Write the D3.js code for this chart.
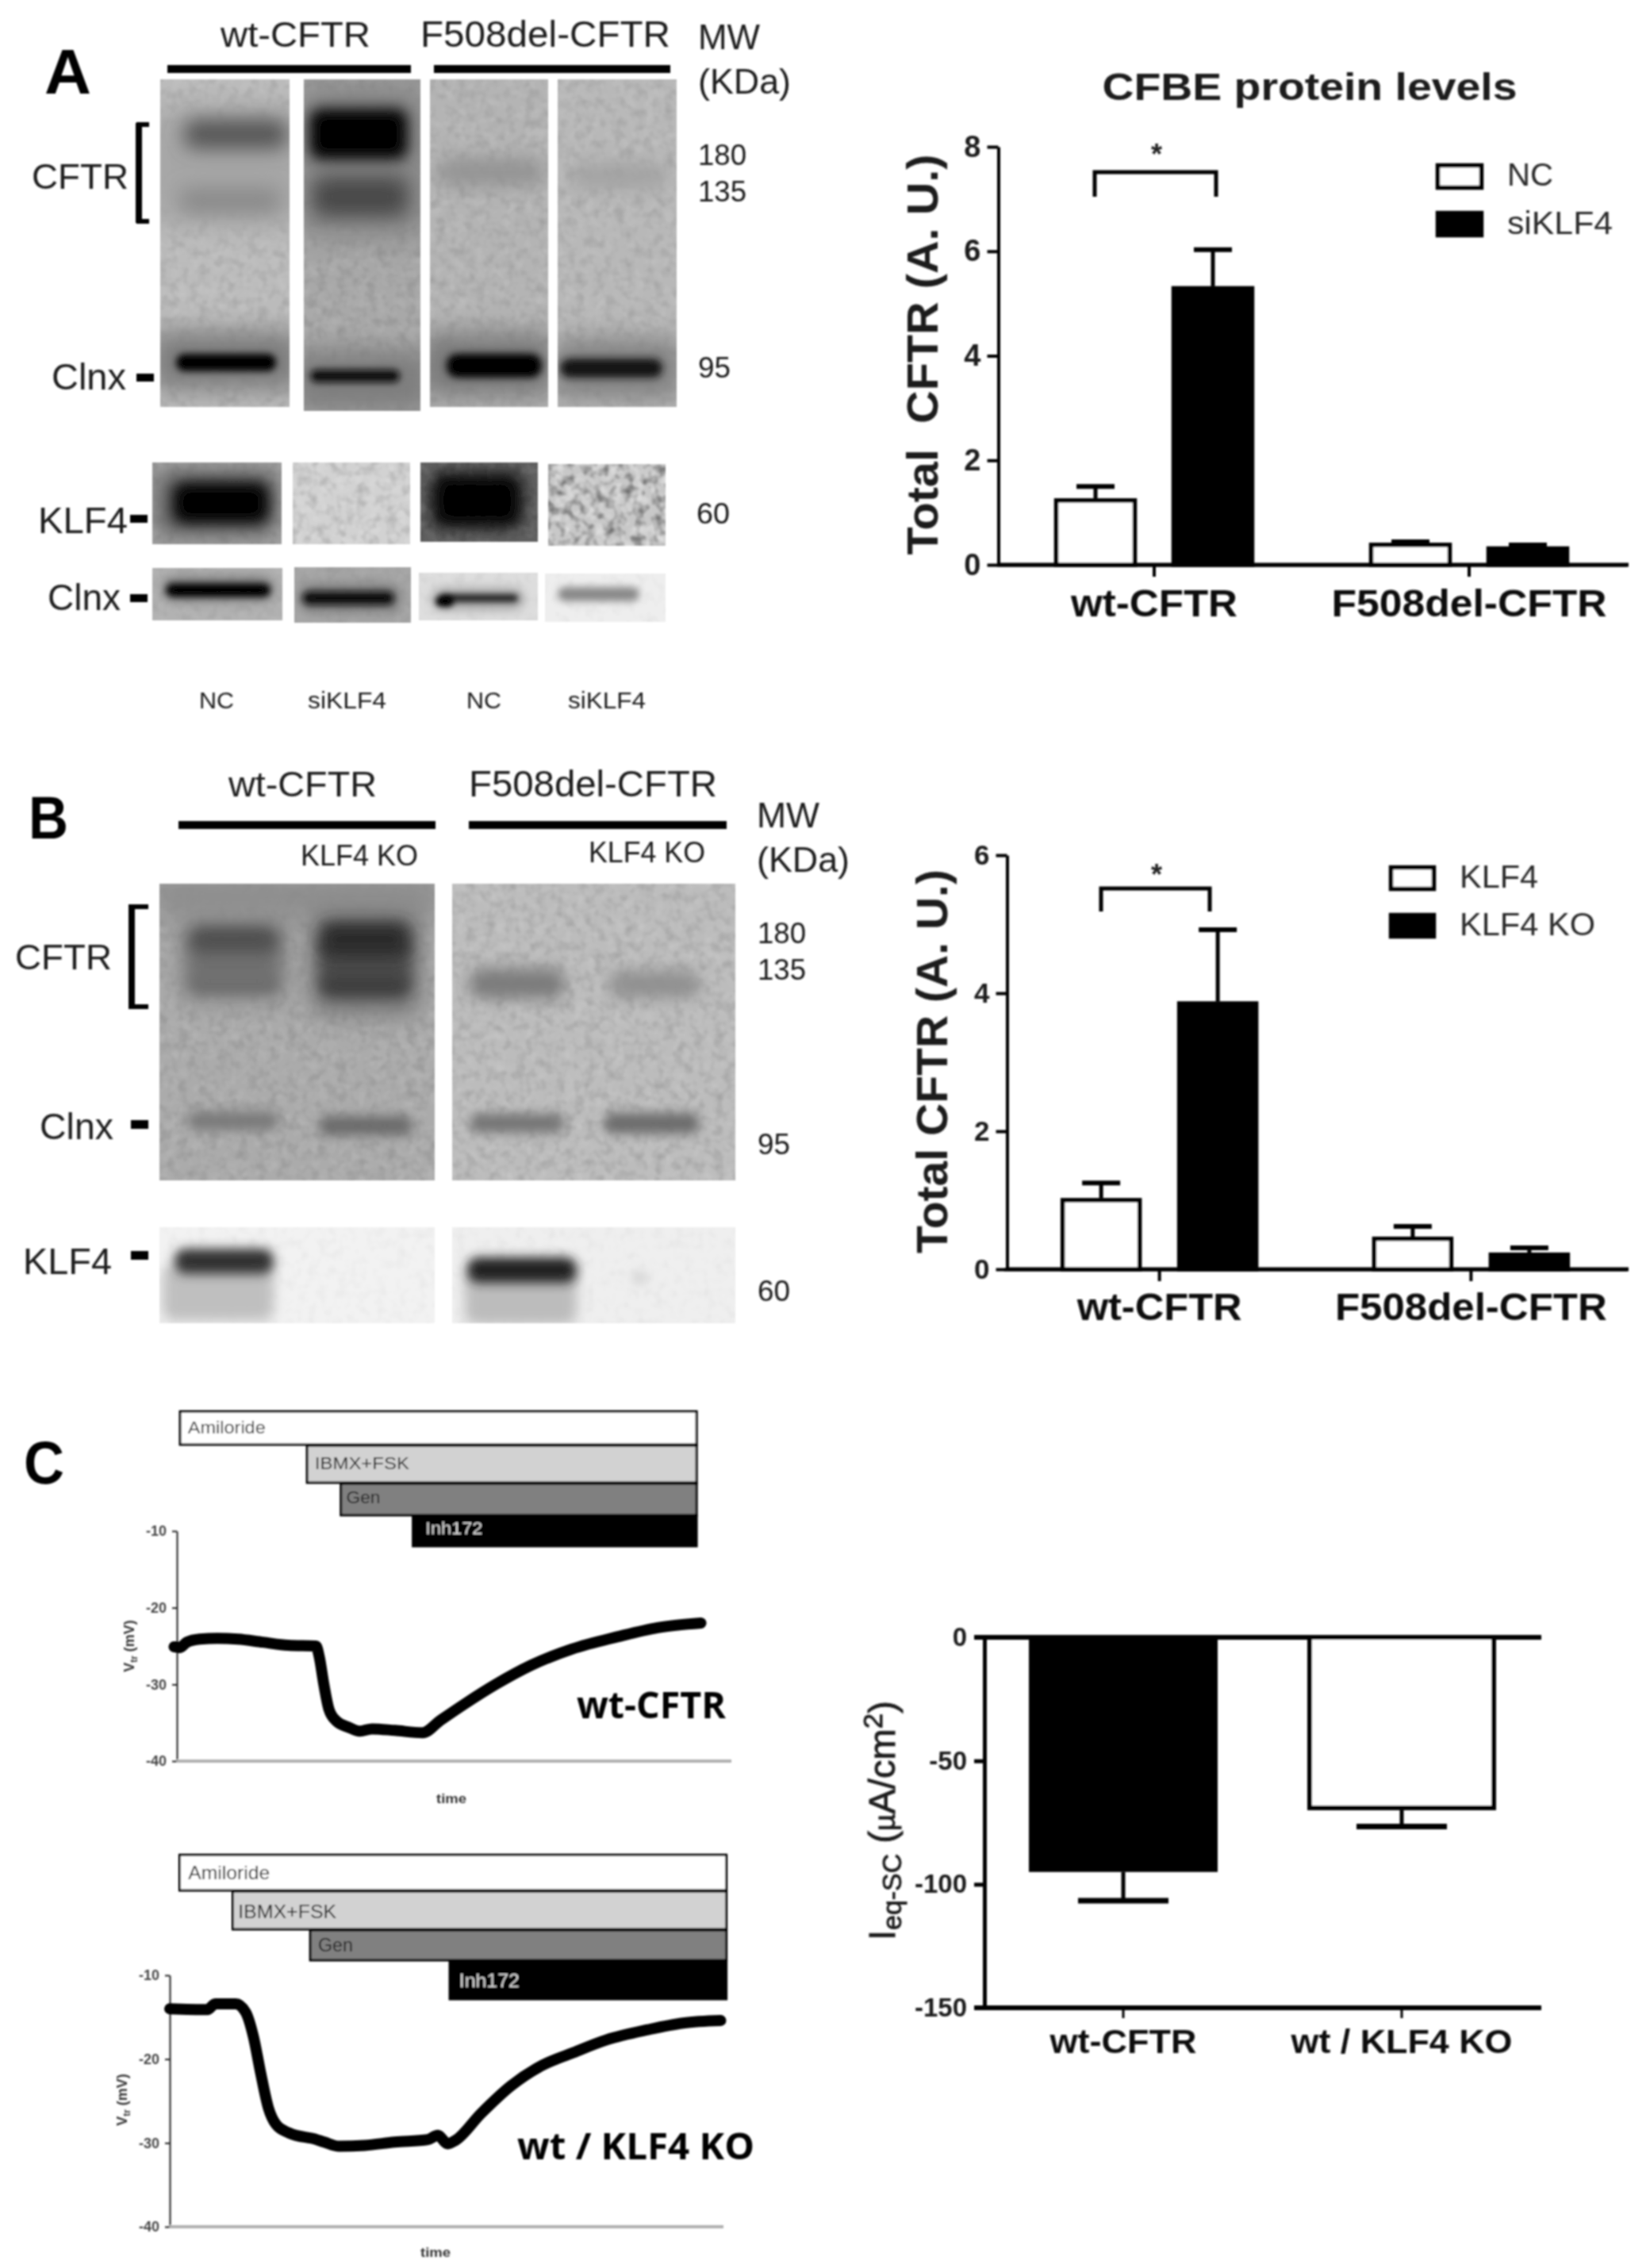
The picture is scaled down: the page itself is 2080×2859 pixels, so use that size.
<!DOCTYPE html>
<html><head><meta charset="utf-8">
<script src="https://cdn.jsdelivr.net/npm/d3@7"></script>
<style>html,body{margin:0;padding:0;background:#fff}svg{display:block}text{font-family:"Liberation Sans",Arial,sans-serif}</style>
</head><body><div id="c"></div>
<script>
// ---------- data ----------
const groups = ["wt-CFTR", "F508del-CFTR"];
const seriesA = ["NC", "siKLF4"];
const meanA = [[1.27, 5.33], [0.42, 0.35]];
const errA = [[1.50, 6.03], [0.44, 0.38]];
const ticksA = [0, 2, 4, 6, 8];
const seriesB = ["KLF4", "KLF4 KO"];
const meanB = [[1.03, 3.88], [0.47, 0.24]];
const errB = [[1.25, 4.92], [0.62, 0.31]];
const ticksB = [0, 2, 4, 6];
const groupsC = ["wt-CFTR", "wt / KLF4 KO"];
const meanC = [-95, -70];
const errC = [-106.6, -76.6];
const ticksC = [0, -50, -100, -150];
const drugs = ["Amiloride", "IBMX+FSK", "Gen", "Inh172"];
const drugStart1 = [0.4, 23.3, 29.4, 42.4];
const drugStart2 = [1.6, 11.2, 25.2, 50.4];
const drugEnd1 = 93.9, drugEnd2 = 100.7;
const vTicks = [-10, -20, -30, -40];
const traceT1 = [-0.5,0.5,1.8,4.1,7.3,11,15.5,20.1,25.1,25.7,26.5,27.4,28.8,31,33,35.2,39.3,44.3,47.5,52,57.5,63.9,71.2,79.4,86.7,94.5];
const traceV1 = [-25.1,-25.2,-24.5,-24.1,-24,-24.1,-24.5,-24.9,-25,-26.5,-30,-33.2,-34.8,-35.6,-36.1,-35.8,-36,-36.3,-34.7,-32.5,-30,-27.5,-25.4,-23.8,-22.6,-22];
const traceT2 = [0,6.8,8.2,11.9,13.7,15.1,16.4,17.8,19.2,21.5,26.5,27.9,30.6,35.2,40.6,46.6,48.4,50.2,51.6,56.2,61.6,67.1,72.6,78.9,86.3,92.7,99.5];
const traceV2 = [-14,-14.1,-13.4,-13.4,-14.4,-17.3,-21.6,-25.8,-27.8,-28.8,-29.6,-29.9,-30.4,-30.3,-29.9,-29.6,-29.1,-30.1,-29.7,-26.5,-23.2,-20.8,-19.3,-17.7,-16.5,-15.7,-15.4];

// ---------- setup ----------
const W = 2080, H = 2859;
const svg = d3.select("#c").append("svg").attr("width", W).attr("height", H).attr("viewBox", `0 0 ${W} ${H}`);
const defs = svg.append("defs");
const blurs = {};
function blurId(s){
  const id = "b" + String(s).replace(".", "_");
  if(!blurs[id]){
    blurs[id] = 1;
    defs.append("filter").attr("id", id).attr("x", "-60%").attr("y", "-120%").attr("width", "220%").attr("height", "340%")
      .append("feGaussianBlur").attr("stdDeviation", s);
  }
  return `url(#${id})`;
}
function noiseFilter(id, freq, seed, channelK, channelC){
  const f = defs.append("filter").attr("id", id).attr("x", 0).attr("y", 0).attr("width", "100%").attr("height", "100%");
  f.append("feTurbulence").attr("type", "fractalNoise").attr("baseFrequency", freq).attr("numOctaves", 2).attr("seed", seed).attr("result", "n");
  const c = id.startsWith("nw") ? 1 : 0;
  f.append("feColorMatrix").attr("in", "n").attr("type", "matrix")
    .attr("values", `0 0 0 0 ${c}  0 0 0 0 ${c}  0 0 0 0 ${c}  ${channelK} 0 0 0 ${channelC}`);
}
noiseFilter("nk", 0.08, 3, 2.2, -0.95);
noiseFilter("nw", 0.08, 8, 2.2, -0.95);
defs.append("filter").attr("id", "soft").attr("filterUnits", "userSpaceOnUse")
  .attr("x", 0).attr("y", 0).attr("width", W).attr("height", H)
  .append("feGaussianBlur").attr("stdDeviation", 1);
const root = svg.append("g").attr("filter", "url(#soft)");

function txt(str, x, y, size, w, o = {}){
  const t = root.append("text").attr("x", x).attr("y", y).attr("font-size", size)
    .attr("fill", o.fill || "#1c1c1c").attr("font-weight", o.bold ? "bold" : "normal")
    .attr("text-anchor", o.anchor || "start").text(str);
  if(o.family) t.style("font-family", o.family);
  if(w) t.attr("textLength", w).attr("lengthAdjust", "spacingAndGlyphs");
  if(o.rot) t.attr("transform", `rotate(-90 ${x} ${y})`);
  return t;
}
function box(x0, y0, x1, y1, fill = "#000"){
  return root.append("rect").attr("x", x0).attr("y", y0).attr("width", x1 - x0).attr("height", y1 - y0).attr("fill", fill);
}
let clipN = 0;
// one blot strip: background, mottling, then soft bands [x0,x1,yc,h,colour,blur,opacity]
function lane(x0, y0, x1, y1, bg, mottle, bands){
  const id = "clip" + (clipN++);
  defs.append("clipPath").attr("id", id).append("rect").attr("x", x0).attr("y", y0).attr("width", x1 - x0).attr("height", y1 - y0);
  const g = root.append("g").attr("clip-path", `url(#${id})`);
  g.append("rect").attr("x", x0).attr("y", y0).attr("width", x1 - x0).attr("height", y1 - y0).attr("fill", bg);
  ["nk", "nw"].forEach(n => g.append("rect").attr("x", x0).attr("y", y0).attr("width", x1 - x0).attr("height", y1 - y0)
    .attr("filter", `url(#${n})`).attr("opacity", mottle));
  bands.forEach(b => {
    g.append("rect").attr("x", b[0]).attr("y", b[2] - b[3] / 2).attr("width", b[1] - b[0]).attr("height", b[3])
      .attr("rx", Math.min(b[3] / 2, 14)).attr("fill", b[4]).attr("opacity", b[6] === undefined ? 1 : b[6])
      .attr("filter", blurId(b[5]));
  });
}
function bracket(x, x1, y0, y1){
  root.append("path").attr("d", `M${x1},${y0}H${x}V${y1}H${x1}`).attr("fill", "none").attr("stroke", "#000").attr("stroke-width", 6);
}

// ---------- bar charts ----------
function barChart(o){
  const g = root.append("g");
  const y = d3.scaleLinear().domain(o.yDomain).range(o.yRange);
  const x = d3.scaleBand().domain(groups).range(o.xRange);
  const sub = d3.scaleBand().domain(o.series).range([-o.half, o.half]).paddingInner(o.pad).paddingOuter(0);
  const ax = g.append("g").attr("transform", `translate(${o.axisX},0)`)
    .call(d3.axisLeft(y).tickValues(o.ticks).tickSize(14).tickSizeOuter(0).tickPadding(8).tickFormat(d3.format("d")));
  ax.selectAll("path,line").attr("stroke", "#000").attr("stroke-width", 4);
  ax.selectAll("text").attr("font-size", o.tickFont).attr("font-weight", "bold").attr("fill", "#1c1c1c");
  const bx = g.append("g").attr("transform", `translate(0,${y(0)})`)
    .call(d3.axisBottom(x).tickSize(15).tickSizeOuter(0));
  bx.selectAll("path,line").attr("stroke", "#000").attr("stroke-width", 4);
  bx.selectAll("text").attr("y", o.labelY).attr("dy", 0).attr("font-size", o.labelFont).attr("font-weight", "bold").attr("fill", "#111")
    .attr("textLength", (d, i) => o.labelW[i]).attr("lengthAdjust", "spacingAndGlyphs");
  g.append("line").attr("x1", o.axisX).attr("x2", o.xEnd).attr("y1", y(0)).attr("y2", y(0)).attr("stroke", "#000").attr("stroke-width", 5);

  groups.forEach((gr, i) => o.series.forEach((s, j) => {
    const cx = x(gr) + x.bandwidth() / 2 + sub(s) + sub.bandwidth() / 2;
    const bw = sub.bandwidth();
    const cap = o.cap;
    g.append("line").attr("x1", cx).attr("x2", cx).attr("y1", y(o.mean[i][j])).attr("y2", y(o.err[i][j])).attr("stroke", "#000").attr("stroke-width", 5);
    g.append("line").attr("x1", cx - cap / 2).attr("x2", cx + cap / 2).attr("y1", y(o.err[i][j])).attr("y2", y(o.err[i][j])).attr("stroke", "#000").attr("stroke-width", 6);
    g.append("rect").attr("x", cx - bw / 2 + 2.5).attr("width", bw - 5).attr("y", y(o.mean[i][j]) + 2.5).attr("height", y(0) - y(o.mean[i][j]) - 2.5)
      .attr("fill", j ? "#000" : "#fff").attr("stroke", "#000").attr("stroke-width", 5.5);
  }));
  // significance bracket
  g.append("path").attr("d", `M${o.br[0]},${o.br[3]}V${o.br[2]}H${o.br[1]}V${o.br[3]}`).attr("fill", "none").attr("stroke", "#000").attr("stroke-width", 5);
  txt("*", o.starX, o.starY, 36, null, {anchor: "middle", bold: true, fill: "#222"});
  // legend
  o.series.forEach((s, j) => {
    g.append("rect").attr("x", o.legX + 2.5).attr("y", o.legY[j] + 2.5).attr("width", o.legW - 5).attr("height", o.legH - 5)
      .attr("fill", j ? "#000" : "#fff").attr("stroke", "#000").attr("stroke-width", 5.5);
    txt(s, o.legTextX, o.legBase[j], 41, o.legTextW[j], {fill: "#2a2a2a"});
  });
}
barChart({series: seriesA, mean: meanA, err: errA, ticks: ticksA, yDomain: [0, 8], yRange: [712, 185], xRange: [1256.5, 2050.5], half: 126, pad: 0.297,
  axisX: 1258.5, xEnd: 2053, tickFont: 38, labelFont: 49, labelY: 65, labelW: [210, 347], cap: 48,
  br: [1380, 1533, 217, 248], starX: 1458, starY: 207, legX: 1810, legY: [206, 266], legW: 60, legH: 33, legTextX: 1900, legBase: [234, 295], legTextW: [58, 133]});
barChart({series: seriesB, mean: meanB, err: errB, ticks: ticksB, yDomain: [0, 6], yRange: [1600, 1078], xRange: [1265.25, 2050.75], half: 124.5, pad: 0.306,
  axisX: 1269.5, xEnd: 2053, tickFont: 35, labelFont: 49, labelY: 64, labelW: [208, 343], cap: 48,
  br: [1388, 1525, 1120, 1149], starX: 1458, starY: 1115, legX: 1751, legY: [1091, 1151], legW: 59, legH: 32, legTextX: 1840, legBase: [1119, 1179], legTextW: [99, 171]});
txt("CFBE protein levels", 1651, 126, 49, 523, {bold: true, anchor: "middle"});
txt("Total\u00a0\u00a0CFTR (A. U.)", 1182, 447, 56, 505, {bold: true, anchor: "middle", rot: true});
txt("Total CFTR (A. U.)", 1194, 1338, 56, 484, {bold: true, anchor: "middle", rot: true});

// panel C bar chart
{
  const g = root.append("g");
  const y = d3.scaleLinear().domain([0, -150]).range([2064, 2531]);
  const x = d3.scaleBand().domain(groupsC).range([1240.5, 1942.5]).paddingInner(0.322).paddingOuter(0.161);
  const ax = g.append("g").attr("transform", "translate(1241,0)")
    .call(d3.axisLeft(y).tickValues(ticksC).tickSize(13).tickSizeOuter(0).tickPadding(9).tickFormat(d3.format("d")));
  ax.selectAll("path,line").attr("stroke", "#000").attr("stroke-width", 5);
  ax.selectAll("text").attr("font-size", 33).attr("font-weight", "bold").attr("fill", "#1c1c1c").text(d => String(d));
  const bx = g.append("g").attr("transform", "translate(0,2531)").call(d3.axisBottom(x).tickSize(13).tickSizeOuter(0));
  bx.selectAll("path,line").attr("stroke", "#000").attr("stroke-width", 3);
  bx.selectAll("text").attr("y", 57).attr("dy", 0).attr("font-size", 42).attr("font-weight", "bold").attr("fill", "#111")
    .attr("textLength", (d, i) => [185, 279][i]).attr("lengthAdjust", "spacingAndGlyphs");
  groupsC.forEach((d, i) => {
    const cx = x(d) + x.bandwidth() / 2, bw = x.bandwidth();
    g.append("line").attr("x1", cx).attr("x2", cx).attr("y1", y(meanC[i])).attr("y2", y(errC[i])).attr("stroke", "#000").attr("stroke-width", 5);
    g.append("line").attr("x1", cx - 57).attr("x2", cx + 57).attr("y1", y(errC[i])).attr("y2", y(errC[i])).attr("stroke", "#000").attr("stroke-width", 7);
    g.append("rect").attr("x", cx - bw / 2 + 3).attr("width", bw - 6).attr("y", y(0)).attr("height", y(meanC[i]) - y(0) - 3)
      .attr("fill", i ? "#fff" : "#000").attr("stroke", "#000").attr("stroke-width", 6);
  });
  [0, -150].forEach(v => g.append("line").attr("x1", 1228).attr("x2", 1943).attr("y1", y(v)).attr("y2", y(v)).attr("stroke", "#000").attr("stroke-width", 6));
  const t = txt("", 1128, 2295, 46, 302, {anchor: "middle", rot: true, fill: "#1c1c1c"});
  t.attr("stroke", "#1c1c1c").attr("stroke-width", 0.8);
  t.append("tspan").text("I");
  t.append("tspan").attr("dy", 8).attr("font-size", 33).text("eq-SC");
  t.append("tspan").attr("dy", -8).text(" (");
  t.append("tspan").attr("font-size", 36).text("\u00b5");
  t.append("tspan").text("A/cm");
  t.append("tspan").attr("dy", -16).attr("font-size", 34).text("2");
  t.append("tspan").attr("dy", 16).text(")");
}

// ---------- voltage traces ----------
function trace(o){
  const g = root.append("g");
  const x = d3.scaleLinear().domain([0, 100]).range(o.xRange);
  const y = d3.scaleLinear().domain([-10, -40]).range(o.yRange);
  const fills = ["#fff", "#d2d2d2", "#808080", "#000"];
  drugs.forEach((d, i) => {
    const x0 = x(o.start[i]), x1 = x(o.end);
    g.append("rect").attr("x", x0 + 1.25).attr("y", o.boxY[i] + 1.25).attr("width", x1 - x0 - 2.5).attr("height", o.boxY[i + 1] - o.boxY[i] - 1.25)
      .attr("fill", fills[i]).attr("stroke", "#000").attr("stroke-width", 3);
    txt(d, x0 + o.pad[i], o.boxBase[i], o.boxFont, o.boxW[i], {fill: i === 3 ? "#d8d8d8" : "#222"});
  });
  const ax = g.append("g").attr("transform", `translate(${o.xRange[0]},0)`)
    .call(d3.axisLeft(y).tickValues(vTicks).tickSize(6).tickSizeOuter(0).tickPadding(7).tickFormat(d3.format("d")));
  ax.selectAll("path,line").attr("stroke", "#222").attr("stroke-width", 2);
  ax.selectAll("text").attr("font-size", 18).attr("font-weight", "bold").attr("fill", "#444").text(d => String(d));
  g.append("line").attr("x1", o.xRange[0]).attr("x2", o.xRange[1]).attr("y1", y(-40)).attr("y2", y(-40)).attr("stroke", "#b0b0b0").attr("stroke-width", 4);
  const pts = o.t.map((d, i) => [d, o.v[i]]);
  const line = d3.line().x(d => x(d[0])).y(d => y(d[1])).curve(d3.curveMonotoneX);
  g.append("path").datum(pts).attr("d", line).attr("fill", "none").attr("stroke", "#000").attr("stroke-width", o.sw).attr("stroke-linecap", "round").attr("stroke-linejoin", "round");
  const lab = txt("", o.vX, o.vY, 18, null, {bold: true, anchor: "middle", rot: true, fill: "#333"});
  lab.append("tspan").text("V");
  lab.append("tspan").attr("dy", 4).attr("font-size", 12).text("tr");
  lab.append("tspan").attr("dy", -4).text(" (mV)");
  txt("time", o.timeX, o.timeY, 17, 38, {bold: true, anchor: "middle", fill: "#333"});
  txt(o.title, o.titleX, o.titleY, 46, o.titleW, {bold: true, fill: "#000", family: "'Open Sans'"});
}
trace({t: traceT1, v: traceV1, start: drugStart1, end: drugEnd1, xRange: [223, 922], yRange: [1930, 2220],
  boxY: [1778, 1821, 1869, 1910, 1949], boxBase: [1807, 1852, 1895, 1934], pad: [11, 11, 8, 17], boxFont: 22, boxW: [98, 119, 43, 72], sw: 14,
  vX: 169, vY: 2075, timeX: 569, timeY: 2273, title: "wt-CFTR", titleX: 727, titleY: 2166, titleW: 188});
trace({t: traceT2, v: traceV2, start: drugStart2, end: drugEnd2, xRange: [214, 912], yRange: [2490, 2807],
  boxY: [2337, 2383, 2432, 2471, 2520], boxBase: [2369, 2418, 2460, 2505], pad: [12, 8, 11, 13], boxFont: 24, boxW: [103, 124, 44, 76], sw: 14,
  vX: 160, vY: 2647, timeX: 549, timeY: 2845, title: "wt / KLF4 KO", titleX: 652, titleY: 2722, titleW: 299});

// ---------- blots, panel A ----------
lane(202, 100, 365, 513, "#bcbcbc", 0.1, [[180, 390, 210, 150, "#a6a6a6", 20], [232, 362, 169, 38, "#575757", 12], [226, 354, 253, 32, "#8a8a8a", 12], [190, 380, 455, 75, "#7c7c7c", 16], [222, 348, 457, 22, "#000", 4.5]]);
lane(383, 100, 530, 518, "#a8a8a8", 0.1, [[370, 545, 200, 200, "#858585", 22], [390, 514, 169, 64, "#000", 9], [394, 514, 248, 50, "#4a4a4a", 12], [370, 545, 480, 80, "#7e7e7e", 16], [391, 504, 474, 16, "#0c0c0c", 4]]);
lane(542, 100, 691, 513, "#b4b4b4", 0.1, [[551, 686, 217, 34, "#929292", 12], [530, 700, 460, 80, "#787878", 16], [563, 683, 461, 30, "#000", 5]]);
lane(703, 100, 853, 513, "#b8b8b8", 0.1, [[718, 842, 222, 32, "#a2a2a2", 12], [695, 860, 465, 75, "#808080", 16], [706, 835, 464, 24, "#141414", 5]]);
lane(192, 583, 355, 686, "#a4a4a4", 0.1, [[195, 350, 634, 84, "#666", 14], [218, 339, 634, 52, "#000", 9]]);
lane(369, 583, 517, 686, "#d2d2d2", 0.16, []);
lane(530, 583, 678, 683, "#606060", 0.12, [[545, 658, 631, 68, "#000", 10]]);
lane(691, 585, 839, 688, "#c8c8c8", 0.5, []);
lane(192, 716, 356, 782, "#b2b2b2", 0.05, [[205, 345, 742, 30, "#7c7c7c", 8], [209, 341, 744, 17, "#000", 4]]);
lane(371, 715, 518, 785, "#a6a6a6", 0.05, [[378, 505, 754, 34, "#7a7a7a", 8], [381, 497, 754, 17, "#101010", 4]]);
lane(528, 722, 678, 782, "#dedede", 0.04, [[545, 660, 755, 26, "#a0a0a0", 7], [555, 653, 754, 10, "#282828", 3.5], [549, 572, 758, 14, "#000", 3.5]]);
lane(687, 723, 839, 784, "#eeeeee", 0.03, [[703, 806, 749, 18, "#888", 5]]);

txt("A", 56, 118, 80, 59, {bold: true, fill: "#000"});
txt("wt-CFTR", 278, 59, 45, 189);
txt("F508del-CFTR", 530, 59, 46, 315);
box(211, 82, 518, 92); box(547, 82, 845, 92);
txt("MW", 880, 62, 44, 78); txt("(KDa)", 880, 118, 44, 117);
txt("CFTR", 40, 238, 45, 122);
bracket(175, 188, 157, 279);
box(171, 155, 179, 281);
txt("Clnx", 65, 491, 46, 94); box(172, 471, 194, 481);
txt("180", 880, 208, 37, 61); txt("135", 880, 254, 37, 61); txt("95", 880, 476, 37, 41); txt("60", 878, 660, 37, 42);
txt("KLF4", 48, 672, 46, 113); box(164, 649, 186, 659);
txt("Clnx", 60, 769, 46, 92); box(164, 749, 186, 759);
txt("NC", 251, 893, 30, 44); txt("siKLF4", 388, 893, 30, 99); txt("NC", 588, 893, 30, 44); txt("siKLF4", 716, 893, 30, 98);

// ---------- blots, panel B ----------
lane(201, 1114, 548, 1488, "#ababab", 0.1, [[190, 560, 1130, 60, "#8d8d8d", 18], [225, 365, 1210, 110, "#8a8a8a", 16], [392, 530, 1215, 130, "#777", 16], [238, 351, 1212, 60, "#707070", 10], [403, 517, 1214, 62, "#4c4c4c", 10], [238, 351, 1184, 32, "#4e4e4e", 10], [238, 351, 1241, 22, "#6c6c6c", 8], [403, 517, 1184, 44, "#2a2a2a", 10], [403, 517, 1243, 28, "#3c3c3c", 9], [236, 351, 1413, 24, "#7a7a7a", 7], [402, 520, 1419, 24, "#6a6a6a", 7]]);
lane(570, 1114, 927, 1488, "#bcbcbc", 0.12, [[592, 712, 1240, 38, "#7a7a7a", 10], [768, 882, 1241, 34, "#8f8f8f", 10], [592, 712, 1416, 24, "#757575", 7], [761, 882, 1416, 26, "#6c6c6c", 7]]);
lane(201, 1547, 548, 1668, "#f2f2f2", 0.03, [[205, 345, 1630, 70, "#bfbfbf", 8], [220, 345, 1590, 32, "#303030", 7]]);
lane(570, 1547, 927, 1668, "#efefef", 0.03, [[586, 727, 1635, 70, "#bcbcbc", 8], [589, 727, 1601, 32, "#222", 7], [795, 818, 1611, 20, "#dadada", 6]]);

txt("B", 36, 1057, 76, 50, {bold: true, fill: "#000"});
txt("wt-CFTR", 288, 1004, 45, 187);
txt("F508del-CFTR", 591, 1004, 46, 313);
box(225, 1035, 549, 1045); box(591, 1035, 916, 1045);
txt("KLF4 KO", 379, 1091, 36, 148); txt("KLF4 KO", 742, 1087, 36, 147);
txt("MW", 954, 1043, 44, 79); txt("(KDa)", 954, 1099, 44, 117);
txt("CFTR", 19, 1222, 45, 122);
bracket(166, 187, 1143, 1269);
box(162, 1140, 170, 1272);
txt("Clnx", 50, 1436, 46, 93); box(165, 1412, 187, 1423);
txt("KLF4", 29, 1606, 46, 112); box(165, 1577, 187, 1588);
txt("180", 955, 1189, 37, 61); txt("135", 955, 1235, 37, 61); txt("95", 955, 1455, 37, 41); txt("60", 955, 1640, 37, 41);
txt("C", 30, 1870, 76, 51, {bold: true, fill: "#000"});
</script></body></html>
